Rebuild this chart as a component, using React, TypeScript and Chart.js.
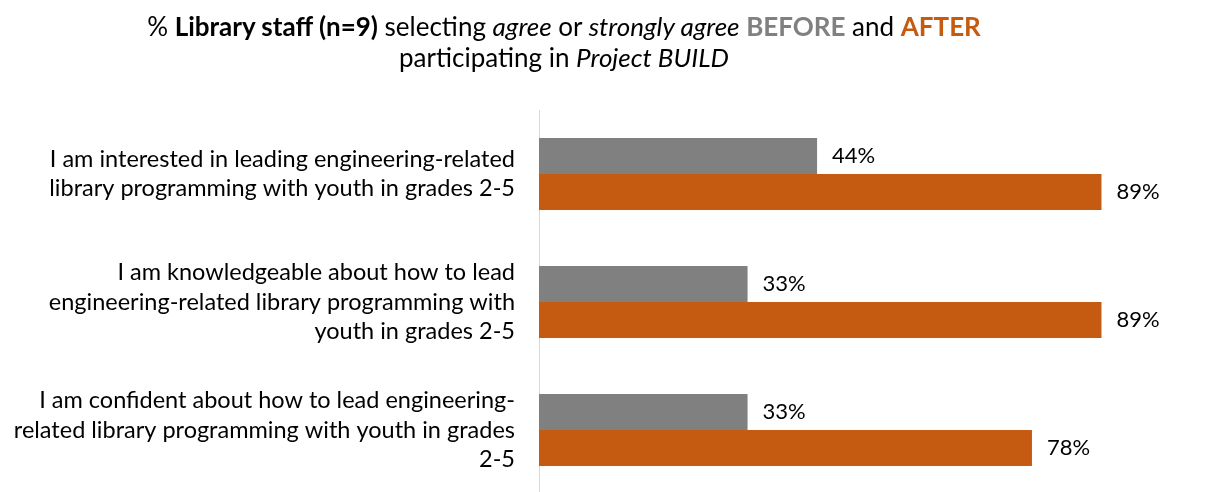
import React, { useEffect, useRef } from "react";
import { Chart, registerables } from "chart.js";

Chart.register(...registerables);

const categories: string[][] = [
  ["I am interested in leading engineering-related", "library programming with youth in grades 2-5"],
  ["I am knowledgeable about how to lead", "engineering-related library programming with", "youth in grades 2-5"],
  ["I am confident about how to lead engineering-", "related library programming with youth in grades", "2-5"],
];
const seriesNames = ["BEFORE", "AFTER"];
const beforeValues = [44, 33, 33];
const afterValues = [89, 89, 78];
const seriesColors = ["#808080", "#C55A11"];

const FONT = "Lato, 'Open Sans', sans-serif";
const LABEL_SIZE = 23.5;
const VALUE_SIZE = 22;

const valueLabels = {
  id: "valueLabels",
  afterDatasetsDraw(chart: any) {
    const ctx = chart.ctx;
    ctx.save();
    ctx.font = `${VALUE_SIZE}px ${FONT}`;
    ctx.fillStyle = "#000";
    ctx.textBaseline = "middle";
    ctx.textAlign = "left";
    chart.data.datasets.forEach((ds: any, i: number) => {
      const meta = chart.getDatasetMeta(i);
      meta.data.forEach((bar: any, j: number) => {
        ctx.fillText(`${ds.data[j]}%`, bar.x + 15, bar.y);
      });
    });
    ctx.restore();
  },
};

export default function App() {
  const ref = useRef<HTMLCanvasElement>(null);
  useEffect(() => {
    if (!ref.current) return;
    const chart = new Chart(ref.current, {
      type: "bar",
      data: {
        labels: categories,
        datasets: [
          { label: seriesNames[0], data: beforeValues, backgroundColor: seriesColors[0] },
          { label: seriesNames[1], data: afterValues, backgroundColor: seriesColors[1] },
        ],
      },
      options: {
        indexAxis: "y",
        responsive: true,
        maintainAspectRatio: false,
        animation: false,
        devicePixelRatio: 1,
        layout: { padding: { top: 110, bottom: 2, left: 0, right: 35 } },
        datasets: { bar: { categoryPercentage: 0.5625, barPercentage: 1 } },
        plugins: {
          legend: { display: false },
          title: { display: false },
          tooltip: { enabled: false },
        },
        scales: {
          x: { display: false, min: 0, max: 100 },
          y: {
            grid: { display: false, drawTicks: false },
            border: { display: true, color: "#D9D9D9", width: 1 },
            ticks: {
              color: "#000",
              padding: 24,
              font: { family: FONT, size: LABEL_SIZE, lineHeight: 1.25 },
            },
            afterFit(scale: any) {
              scale.width = 539;
              scale.paddingTop = 0;
              scale.paddingBottom = 0;
            },
          },
        },
      },
      plugins: [valueLabels],
    } as any);
    return () => chart.destroy();
  }, []);

  return (
    <div
      style={{
        position: "absolute",
        left: 0,
        top: 0,
        width: 1206,
        height: 492,
        overflow: "hidden",
        background: "#fff",
      }}
    >
      <div style={{ position: "absolute", left: 0, top: 0, width: 1206, height: 496 }}>
        <canvas ref={ref} />
      </div>
      <div
        style={{
          position: "absolute",
          left: 0,
          top: 11,
          width: 1128,
          textAlign: "center",
          fontFamily: FONT,
          fontSize: 26,
          lineHeight: "31px",
          color: "#000",
        }}
      >
        <div>
          % <b>Library staff (n=9)</b> selecting <i>agree</i> or <i>strongly agree</i>{" "}
          <b style={{ color: seriesColors[0] }}>BEFORE</b> and{" "}
          <b style={{ color: seriesColors[1] }}>AFTER</b>
        </div>
        <div>
          participating in <i>Project BUILD</i>
        </div>
      </div>
    </div>
  );
}
